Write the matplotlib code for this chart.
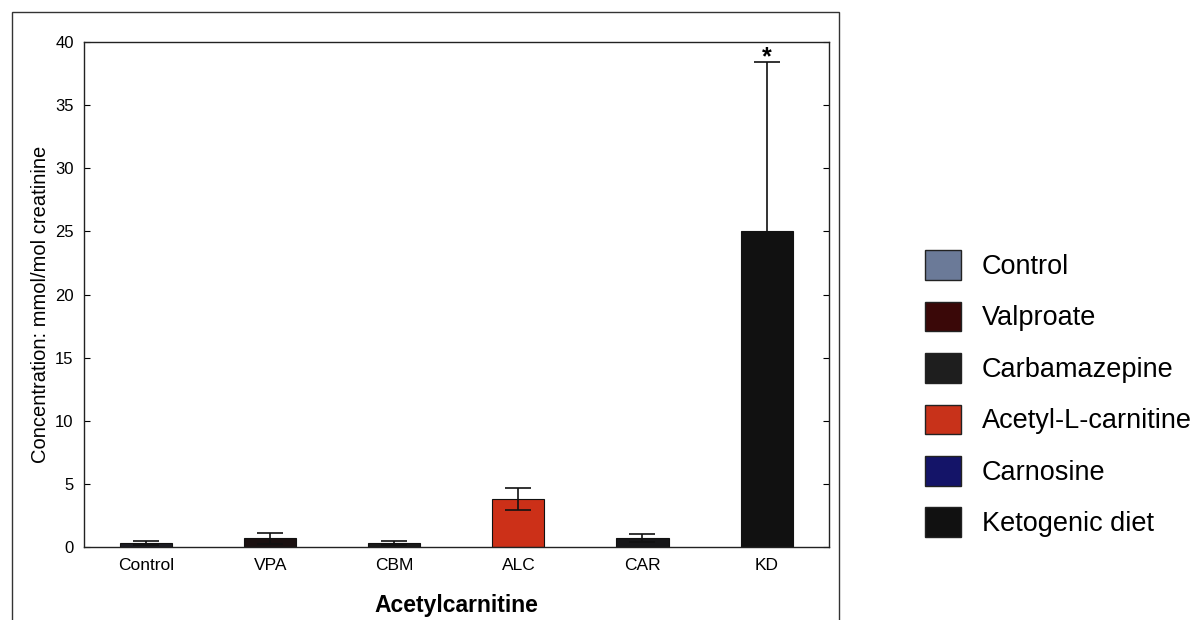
import matplotlib
matplotlib.use("Agg")
import matplotlib.pyplot as plt
from matplotlib.patches import Patch, Rectangle

plt.rcParams["font.family"] = ["Liberation Sans", "DejaVu Sans"]

# data
groups = ["Control", "VPA", "CBM", "ALC", "CAR", "KD"]
means = [0.3, 0.7, 0.3, 3.8, 0.7, 25.0]
errors = [0.15, 0.45, 0.15, 0.9, 0.3, 13.4]
bar_colors = ["#1c1c22", "#1a1010", "#1a1a1a", "#cc3018", "#161618", "#111111"]

legend_labels = ["Control", "Valproate", "Carbamazepine",
                 "Acetyl-L-carnitine", "Carnosine", "Ketogenic diet"]
legend_colors = ["#6b7a98", "#3a0808", "#1e1e1e", "#c8321a", "#141468", "#111111"]

fig = plt.figure(figsize=(11.94, 6.2), dpi=100)
ax = fig.add_axes([0.0704, 0.1177, 0.6236, 0.8145])

x = range(len(groups))
ax.bar(x, means, width=0.42, color=bar_colors, edgecolor="#111111", linewidth=0.8)
ax.errorbar(x, means, yerr=errors, fmt="none", ecolor="#111111",
            elinewidth=1.2, capsize=9.5, capthick=1.2)

# significance marker above KD
ax.text(5, means[5] + errors[5] - 0.6, "*", ha="center", va="bottom",
        fontsize=18, fontweight="bold")

ax.set_xlim(-0.5, 5.5)
ax.set_ylim(0, 40)
ax.set_yticks(range(0, 41, 5))
ax.set_xticks(list(x))
ax.set_xticklabels(groups, fontsize=12.5)
ax.tick_params(axis="y", direction="in", length=4, labelsize=12,
               right=True, pad=7.5)
ax.tick_params(axis="x", length=0, pad=8)
for sp in ax.spines.values():
    sp.set_linewidth(1.0)
    sp.set_color("#222222")

ax.set_ylabel("Concentration: mmol/mol creatinine", fontsize=14.5)
ax.yaxis.set_label_coords(-0.046, 0.48)
ax.set_xlabel("Acetylcarnitine", fontsize=16.5, fontweight="bold", labelpad=15)

# outer frame around the plot panel
fig.patches.append(Rectangle((12 / 1194, -0.02), (839 - 12) / 1194, 1.02 - 12 / 620,
                             transform=fig.transFigure, fill=False,
                             edgecolor="#333333", linewidth=1.0))

handles = [Patch(facecolor=c, edgecolor="#222222", linewidth=1.0) for c in legend_colors]
fig.legend(handles, legend_labels, loc="upper left",
           bbox_to_anchor=(925 / 1194, 1 - 250 / 620), frameon=False,
           fontsize=19.5, handlelength=1.33, handleheight=1.3,
           handletextpad=0.77, labelspacing=0.8, borderpad=0, borderaxespad=0)

fig.savefig("out.png", dpi=100)
